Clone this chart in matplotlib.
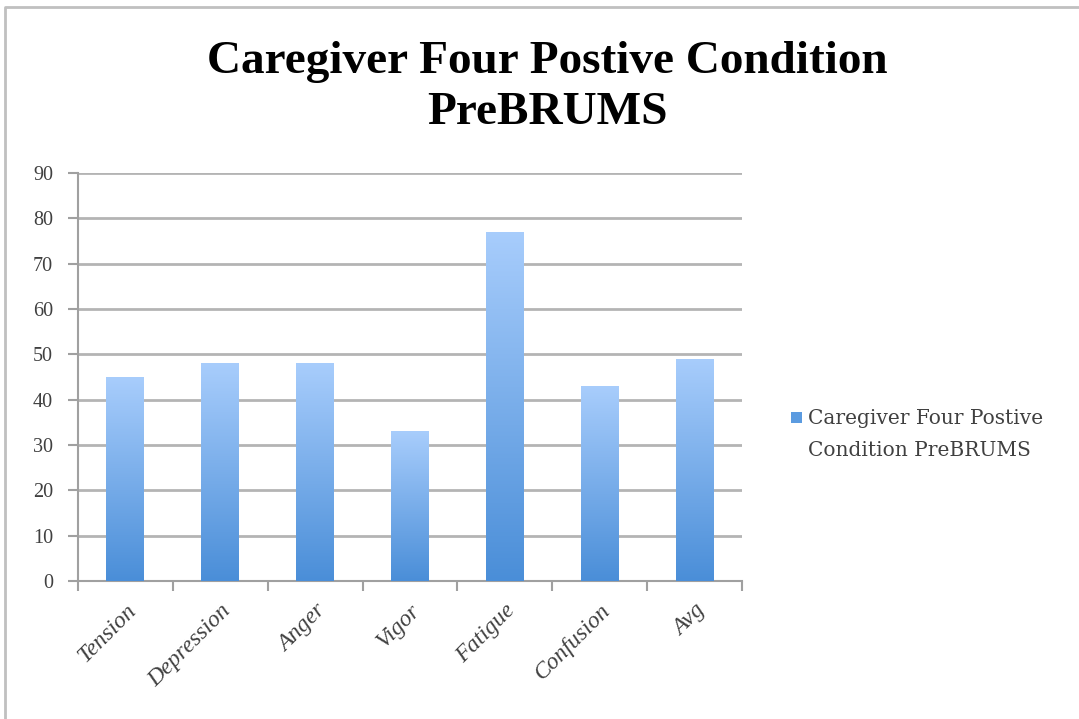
import matplotlib
matplotlib.use('agg')
import matplotlib.pyplot as plt
import numpy as np
from matplotlib.colors import LinearSegmentedColormap
from matplotlib.patches import Rectangle

categories = ['Tension', 'Depression', 'Anger', 'Vigor', 'Fatigue', 'Confusion', 'Avg']
values = [45, 48, 48, 33, 77, 43, 49]
series_name = 'Caregiver Four Postive Condition PreBRUMS'

plt.rcParams['font.family'] = ['Liberation Serif', 'DejaVu Serif']

fig = plt.figure(figsize=(10.79, 7.19), dpi=100)
ax = fig.add_axes([78 / 1079, 1 - 581 / 719, (742 - 78) / 1079, (581 - 173) / 719])

grad = LinearSegmentedColormap.from_list('g', ['#4a8ed8', '#a8cdfc'])
xs = np.arange(len(categories))
bars = ax.bar(xs, values, width=0.4, color='none', edgecolor='none', zorder=3)
gimg = np.linspace(0, 1, 256).reshape(-1, 1)
for b in bars:
    x0, w, h = b.get_x(), b.get_width(), b.get_height()
    im = ax.imshow(gimg, cmap=grad, origin='lower', aspect='auto',
                   extent=[x0, x0 + w, 0, h], zorder=3)
    im.set_clip_path(b)

ax.set_xlim(-0.5, len(categories) - 0.5)
ax.set_ylim(0, 90)
ax.set_yticks(np.arange(0, 91, 10))
ax.set_xticks(xs)
ax.set_xticklabels(categories, rotation=45, ha='right', rotation_mode='anchor',
                   fontsize=17, color='#404040', fontstyle='italic')
ax.set_xticks(np.arange(-0.5, len(categories), 1), minor=True)
ax.tick_params(axis='x', which='major', length=0, pad=14)
ax.tick_params(axis='x', which='minor', length=7, width=1.5, color='#a0a0a0')
ax.tick_params(axis='y', length=7, width=1.5, color='#a0a0a0', labelsize=14.5,
               labelcolor='#404040', pad=11)
ax.yaxis.grid(True, color='#b4b4b4', linewidth=2)
ax.set_axisbelow(True)
for s in ['top', 'right']:
    ax.spines[s].set_visible(False)
for s in ['left', 'bottom']:
    ax.spines[s].set_color('#a0a0a0')
    ax.spines[s].set_linewidth(1.5)

fig.text(0.507, 1 - 62 / 719, 'Caregiver Four Postive Condition', ha='center', va='center',
         fontsize=34, fontweight='bold', color='black')
fig.text(0.507, 1 - 113 / 719, 'PreBRUMS', ha='center', va='center',
         fontsize=34, fontweight='bold', color='black')

# legend
fig.patches.append(Rectangle((791 / 1079, 1 - 423 / 719), 11 / 1079, 11 / 719,
                             transform=fig.transFigure, facecolor='#5b9be0',
                             edgecolor='none'))
fig.text(808 / 1079, 1 - 419 / 719, 'Caregiver Four Postive', ha='left', va='center',
         fontsize=14.5, color='#404040', family='DejaVu Serif')
fig.text(808 / 1079, 1 - 451 / 719, 'Condition PreBRUMS', ha='left', va='center',
         fontsize=14.5, color='#404040', family='DejaVu Serif')

# chart frame
fig.add_artist(plt.Line2D([5 / 1079, 5 / 1079, 1], [0, 1 - 7 / 719, 1 - 7 / 719],
                          transform=fig.transFigure, color='#c0c0c0', linewidth=2))

fig.savefig('out.png', dpi=100)
